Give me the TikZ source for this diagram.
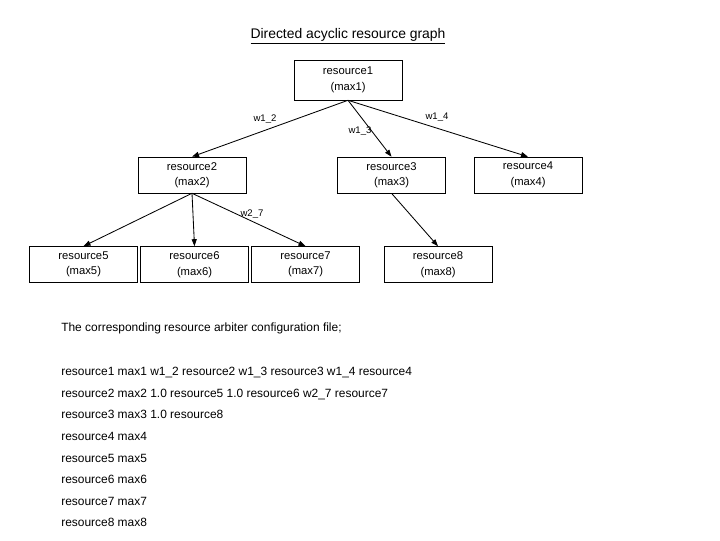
\documentclass[tikz,border=0pt]{standalone}
\usepackage{fontspec}
\setmainfont{Liberation Sans}
\usetikzlibrary{arrows.meta, positioning}

\begin{document}
\begin{tikzpicture}[
            x=0.025cm, y=-0.025cm,
            rnode/.style={draw, rectangle, minimum width=2.7cm, minimum height=0.9cm, align=center, font=\fontsize{8}{11}\selectfont, inner sep=1pt},
            arrow/.style={-{Triangle[length=5pt, width=3.6pt]}, semithick},
            wlabel/.style={font=\fontsize{6.8}{8}\selectfont, inner sep=0pt},
            cline/.style={anchor=base west, font=\fontsize{8.5}{10}\selectfont, inner sep=0pt}
        ]
        \useasboundingbox (0,0) rectangle (720,540);

        % --- title ---
        \node[font=\fontsize{9.9}{12}\selectfont] (title) at (348, 36) {\underline{Directed acyclic resource graph}};

        % --- resource graph ---
        \node[rnode, minimum height=1.0cm] (r1) at (348, 80) {resource1\\(max1)};
        \node[rnode] (r2) at (192, 175) {resource2\\(max2)};
        \node[rnode] (r3) at (391.5, 175) {resource3\\(max3)};
        \node[rnode] (r4) at (528, 175) {resource4\\(max4)};
        \node[rnode] (r5) at (83.5, 264.5) {resource5\\(max5)};
        \node[rnode] (r6) at (194.5, 264.5) {resource6\\(max6)};
        \node[rnode] (r7) at (305.5, 264.5) {resource7\\(max7)};
        \node[rnode] (r8) at (438, 264.5) {resource8\\(max8)};

        \draw[arrow] (r1.south)--(r2.north);
        \draw[arrow] (r1.south)--(r3.north);
        \draw[arrow] (r1.south)--(r4.north);
        \draw[arrow] (r2.south)--(r5.north);
        \draw[arrow] (r2.south)--(r6.north);
        \draw[arrow] (r2.south)--(r7.north);
        \draw[arrow] (r3.south)--(r8.north);

        % --- edge weights ---
        \node[wlabel] (w12) at (265, 119) {w1\_2};
        \node[wlabel] (w13) at (360, 131) {w1\_3};
        \node[wlabel] (w14) at (437, 117) {w1\_4};
        \node[wlabel] (w27) at (252, 214) {w2\_7};

        % --- configuration file ---
        \node[cline] (cfg) at (61, 331) {The corresponding resource arbiter configuration file;};
        \node[cline] (c1) at (61, 375) {resource1 max1 w1\_2 resource2 w1\_3 resource3 w1\_4 resource4};
        \node[cline] (c2) at (61, 397) {resource2 max2 1.0 resource5 1.0 resource6 w2\_7 resource7};
        \node[cline] (c3) at (61, 418) {resource3 max3 1.0 resource8};
        \node[cline] (c4) at (61, 440) {resource4 max4};
        \node[cline] (c5) at (61, 462) {resource5 max5};
        \node[cline] (c6) at (61, 483) {resource6 max6};
        \node[cline] (c7) at (61, 505) {resource7 max7};
        \node[cline] (c8) at (61, 526) {resource8 max8};

        \end{tikzpicture}
\end{document}
